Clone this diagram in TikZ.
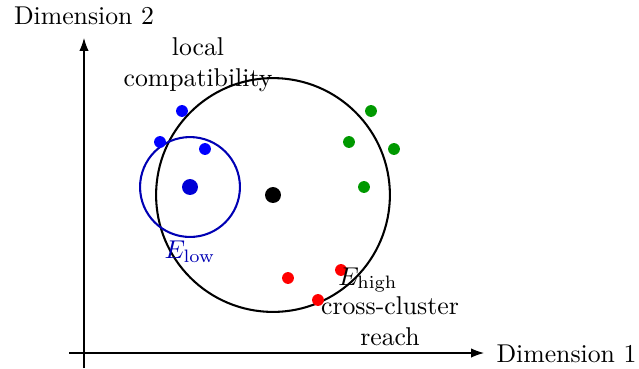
\documentclass[tikz,border=0pt]{standalone}
\usetikzlibrary{arrows.meta}
\definecolor{dotblue}{RGB}{0,0,255}
\definecolor{centerblue}{RGB}{0,0,215}
\definecolor{ringblue}{RGB}{0,0,180}
\definecolor{dotgreen}{RGB}{0,153,0}
\definecolor{dotred}{RGB}{255,0,0}
\begin{document}
\begin{tikzpicture}[x=0.3884pt,y=-0.3884pt,
  axis/.style={line width=0.4pt,-{Latex[length=5pt,width=3.6pt]}},
  smalldot/.style={circle,inner sep=0pt,minimum size=4.6pt,fill=#1},
  bigdot/.style={circle,inner sep=0pt,minimum size=6.2pt,fill=#1},
  lbl/.style={inner sep=0pt,align=center}]
\useasboundingbox (0,0) rectangle (639,368);
% axes
\coordinate (xs) at (69,353);
\coordinate (xe) at (484,353);
\coordinate (ys) at (84,368);
\coordinate (ye) at (84,38);
\draw[axis] (xs) -- (xe);
\draw[axis] (ys) -- (ye);
\node[lbl,anchor=west] (d1) at (496,354) {Dimension 1};
\node[lbl] (d2) at (84,16) {Dimension 2};
% circles
\coordinate (c) at (273,195);
\draw[line width=0.8pt] (c) circle[radius=45.4pt];
\coordinate (cb) at (190,187);
\draw[line width=0.8pt,ringblue] (cb) circle[radius=19.4pt];
% center dots
\node[bigdot=black] (center) at (273,195) {};
\node[bigdot=centerblue] (bc) at (190,187) {};
% blue
\node[smalldot=dotblue] (b1) at (182,111) {};
\node[smalldot=dotblue] (b2) at (160,142) {};
\node[smalldot=dotblue] (b3) at (205,149) {};
% green
\node[smalldot=dotgreen] (g1) at (371,111) {};
\node[smalldot=dotgreen] (g2) at (349,142) {};
\node[smalldot=dotgreen] (g3) at (394,149) {};
\node[smalldot=dotgreen] (g4) at (364,187) {};
% red
\node[smalldot=dotred] (r1) at (288,278) {};
\node[smalldot=dotred] (r2) at (341,270) {};
\node[smalldot=dotred] (r3) at (318,300) {};
% labels
\node[lbl,text=ringblue] (elow) at (190,252) {$E_{\mathrm{low}}$};
\node[lbl] (ehigh) at (368,280) {$E_{\mathrm{high}}$};
\node[lbl] (cross) at (390,321) {cross-cluster\\reach};
\node[lbl] (local) at (198,65) {local\\compatibility};
\end{tikzpicture}
\end{document}
